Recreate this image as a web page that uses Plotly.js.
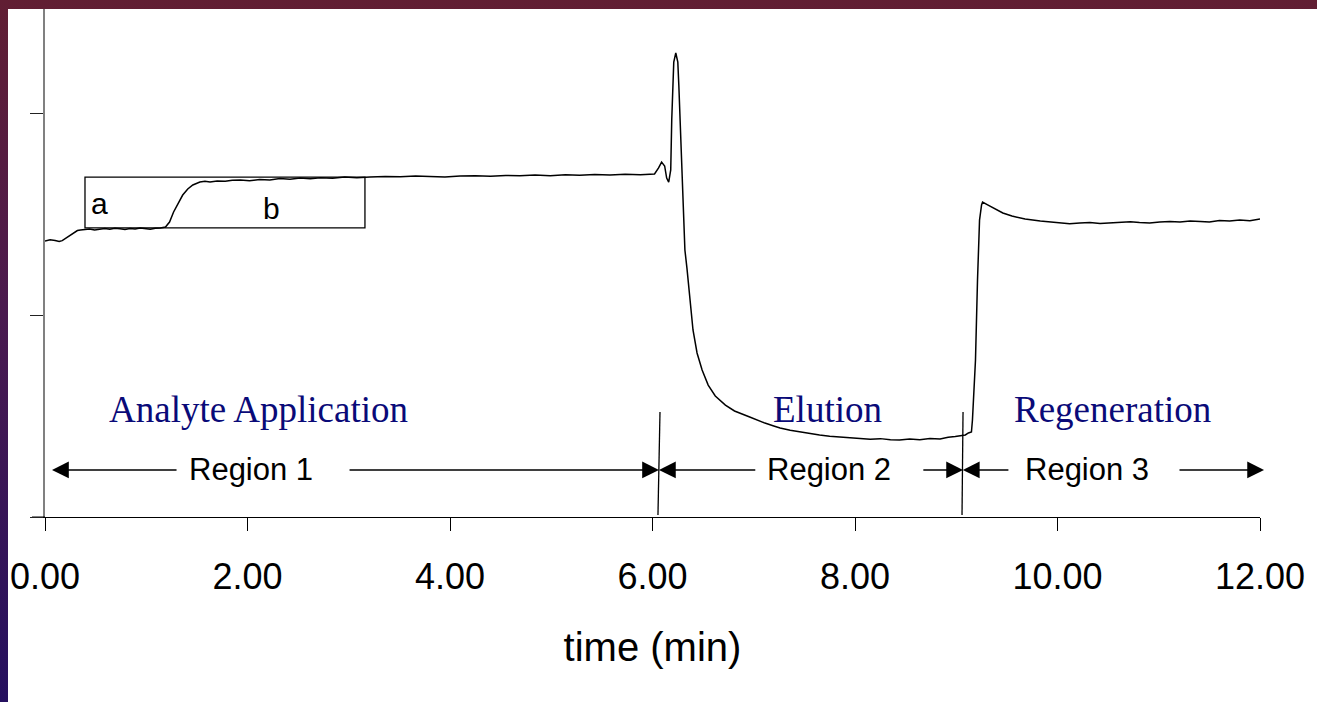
<!DOCTYPE html>
<html>
<head>
<meta charset="utf-8">
<script src="https://cdn.plot.ly/plotly-3.0.1.min.js"></script>
<style>
  html, body { margin:0; padding:0; width:1317px; height:702px; overflow:hidden;
    background: linear-gradient(to bottom, #611e33 0%, #4a1a4f 45%, #25105f 100%); }
  #chart { position:absolute; left:8px; top:9px; width:1309px; height:693px; background:#fff; }
</style>
</head>
<body>
<div id="chart"></div>
<script>
// time (min)
const time = [
  0.00, 0.05, 0.10, 0.14, 0.17, 0.20, 0.23, 0.26, 0.29, 0.32, 0.35, 0.40, 0.44, 0.49, 0.54, 0.59, 0.64, 0.69, 0.74, 0.79, 0.84, 0.89, 0.94, 0.99, 1.04, 1.09, 1.14, 1.19,
  1.23, 1.27, 1.31, 1.36, 1.41, 1.46, 1.53, 1.58, 1.63, 1.70, 1.78, 1.85, 1.93, 2.02, 2.12, 2.22, 2.32, 2.42, 2.52, 2.62, 2.72, 2.84, 2.96, 3.08, 3.21, 3.36, 3.51, 3.66,
  3.80, 3.95, 4.10, 4.25, 4.40, 4.55, 4.69, 4.84, 4.99, 5.14, 5.28, 5.43, 5.58, 5.73, 5.88, 5.95, 6.02, 6.06, 6.09, 6.12, 6.14, 6.16, 6.18, 6.19, 6.20, 6.21,
  6.23, 6.25, 6.26, 6.28, 6.30, 6.32, 6.34, 6.37, 6.40, 6.44, 6.49, 6.55, 6.62, 6.72, 6.81, 6.96, 7.04, 7.11, 7.19, 7.26, 7.36, 7.46, 7.56, 7.65, 7.75, 7.85, 7.95,
  8.05, 8.15, 8.25, 8.35, 8.44, 8.54, 8.64, 8.74, 8.84, 8.92, 8.99, 9.05, 9.09, 9.12, 9.15, 9.16, 9.19, 9.21, 9.23, 9.25, 9.26, 9.31, 9.38, 9.46, 9.55, 9.68,
  9.83, 9.93, 10.02, 10.12, 10.22, 10.32, 10.42, 10.52, 10.62, 10.72, 10.81, 10.91, 11.01, 11.11, 11.21, 11.31, 11.41, 11.50, 11.60, 11.70, 11.80, 11.90, 12.00
];
// detector response (arbitrary units)
const signal = [
  1.366, 1.372, 1.369, 1.364, 1.368, 1.378, 1.388, 1.400, 1.412, 1.418, 1.421, 1.424, 1.426, 1.421, 1.423, 1.428, 1.425, 1.429, 1.427, 1.424, 1.428, 1.426, 1.431, 1.427, 1.425, 1.430, 1.431, 1.436,
  1.460, 1.510, 1.550, 1.594, 1.624, 1.644, 1.658, 1.662, 1.659, 1.664, 1.662, 1.667, 1.668, 1.665, 1.671, 1.669, 1.676, 1.672, 1.678, 1.675, 1.679, 1.677, 1.683, 1.680, 1.683, 1.686, 1.684, 1.688,
  1.686, 1.683, 1.688, 1.690, 1.687, 1.691, 1.689, 1.693, 1.690, 1.694, 1.692, 1.696, 1.693, 1.697, 1.694, 1.697, 1.698, 1.728, 1.757, 1.738, 1.678, 1.658, 1.718, 1.965, 2.089, 2.252,
  2.297, 2.252, 2.139, 1.866, 1.520, 1.322, 1.233, 1.089, 0.926, 0.812, 0.728, 0.653, 0.599, 0.554, 0.525, 0.495, 0.478, 0.465, 0.452, 0.441, 0.430, 0.421, 0.414, 0.406, 0.400, 0.396, 0.394,
  0.391, 0.385, 0.388, 0.382, 0.381, 0.386, 0.383, 0.389, 0.386, 0.395, 0.398, 0.401, 0.406, 0.416, 0.421, 0.480, 0.777, 1.173, 1.470, 1.545, 1.559, 1.545, 1.525, 1.505, 1.490, 1.475,
  1.465, 1.461, 1.457, 1.452, 1.455, 1.458, 1.453, 1.456, 1.457, 1.462, 1.458, 1.455, 1.460, 1.463, 1.461, 1.466, 1.463, 1.460, 1.468, 1.465, 1.470, 1.467, 1.475
];
// tick labels
const xTickVals = [0, 2, 4, 6, 8, 10, 12];
const xTickText = ["0.00", "2.00", "4.00", "6.00", "8.00", "10.00", "12.00"];
const yTickVals = [0, 1, 2];
// phase labels
const phaseNames = ["Analyte Application", "Elution", "Regeneration"];
const phaseX = [2.11, 7.73, 10.54];
const regionNames = ["Region 1", "Region 2", "Region 3"];
const regionX = [2.03, 7.74, 10.29];
// region arrows: [head, tail]
const arrowHeads = [0.069, 6.064, 6.064, 9.067, 9.065, 12.04];
const arrowTails = [1.314, 2.993, 7.03, 8.66, 9.53, 11.19];
// region boundaries
const boundTop = [6.074, 9.067];
const boundBottom = [6.054, 9.057];

const trace = {
  x: time, y: signal, type: 'scatter', mode: 'lines',
  line: { color: '#000', width: 1.5 }, hoverinfo: 'skip'
};

const annotations = [];
phaseNames.forEach((t, i) => annotations.push({
  x: phaseX[i], y: 0.53, xref: 'x', yref: 'y', text: t, showarrow: false,
  font: { family: 'Liberation Serif, Times New Roman, serif', size: 37, color: '#0a0a78' }
}));
regionNames.forEach((t, i) => annotations.push({
  x: regionX[i], y: 0.233, xref: 'x', yref: 'y', text: t, showarrow: false,
  font: { family: 'Liberation Sans, Arial, sans-serif', size: 31, color: '#000' }
}));
arrowHeads.forEach((h, i) => annotations.push({
  x: h, y: 0.233, ax: arrowTails[i], ay: 0.233, axref: 'x', ayref: 'y', xref: 'x', yref: 'y',
  text: '', showarrow: true, arrowhead: 2, arrowsize: 2.4, arrowwidth: 1.4, arrowcolor: '#000', standoff: 0, startstandoff: 0
}));
annotations.push({ x: 0.54, y: 1.554, xref: 'x', yref: 'y', text: 'a', showarrow: false,
  font: { family: 'Liberation Sans, Arial, sans-serif', size: 30, color: '#000' } });
annotations.push({ x: 2.24, y: 1.525, xref: 'x', yref: 'y', text: 'b', showarrow: false,
  font: { family: 'Liberation Sans, Arial, sans-serif', size: 30, color: '#000' } });

const shapes = [
  { type: 'rect', xref: 'x', yref: 'y', x0: 0.395, x1: 3.16, y0: 1.431, y1: 1.683, line: { color: '#000', width: 1.3 }, fillcolor: 'rgba(0,0,0,0)' },
  // y tick at zero, extending the category axis to the left
  { type: 'line', xref: 'paper', yref: 'y', x0: -0.0107, x1: 0, y0: 0, y1: 0, line: { color: '#000', width: 1 } }
];
boundTop.forEach((b, i) => shapes.push({
  type: 'line', xref: 'x', yref: 'y', x0: b, y0: 0.52, x1: boundBottom[i], y1: 0.01, line: { color: '#000', width: 1.3 }
}));

const layout = {
  width: 1309, height: 693,
  margin: { l: 37, r: 57, t: 0, b: 185 },
  paper_bgcolor: '#fff', plot_bgcolor: '#fff',
  showlegend: false, hovermode: false,
  xaxis: {
    range: [0, 12], tickvals: xTickVals, ticktext: xTickText,
    ticks: 'outside', ticklen: 13, tickwidth: 1, tickcolor: '#000', ticklabelstandoff: 15,
    showline: true, linecolor: '#000', linewidth: 1, showgrid: false, zeroline: false,
    tickfont: { family: 'Liberation Sans, Arial, sans-serif', size: 36, color: '#000' },
    title: { text: 'time (min)', standoff: 36, font: { family: 'Liberation Sans, Arial, sans-serif', size: 40, color: '#000' } }
  },
  yaxis: {
    range: [0, 2.515], tickvals: yTickVals, showticklabels: false,
    ticks: 'outside', ticklen: 13, tickwidth: 1, tickcolor: '#222',
    showline: true, linecolor: '#808080', linewidth: 2, showgrid: false, zeroline: false
  },
  annotations: annotations,
  shapes: shapes
};

Plotly.newPlot('chart', [trace], layout, { displayModeBar: false, staticPlot: true });
</script>
</body>
</html>
